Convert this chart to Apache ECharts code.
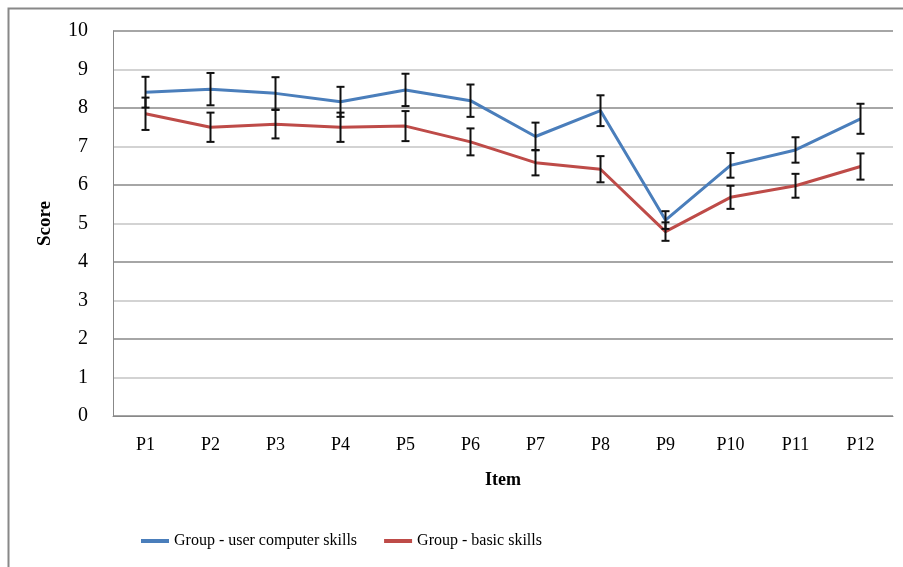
<!DOCTYPE html>
<html>
<head>
<meta charset="utf-8">
<title>Score by item</title>
<script src="https://cdn.jsdelivr.net/npm/echarts@6/dist/echarts.min.js"></script>
<style>
    html, body { margin: 0; padding: 0; background: #fff; }
    #chart { width: 903px; height: 567px; }
</style>
</head>
<body>
<div id="chart"></div>
<script>
// 数据
var items = ['P1', 'P2', 'P3', 'P4', 'P5', 'P6', 'P7', 'P8', 'P9', 'P10', 'P11', 'P12'];
var userSkills = [8.41, 8.49, 8.38, 8.16, 8.47, 8.19, 7.26, 7.93, 5.09, 6.51, 6.91, 7.72];
var userErr = [0.40, 0.42, 0.42, 0.39, 0.42, 0.42, 0.36, 0.40, 0.23, 0.32, 0.33, 0.39];
var basicSkills = [7.85, 7.50, 7.58, 7.50, 7.53, 7.12, 6.58, 6.41, 4.79, 5.68, 5.98, 6.48];
var basicErr = [0.42, 0.38, 0.37, 0.38, 0.39, 0.35, 0.33, 0.34, 0.24, 0.30, 0.31, 0.34];
var yTicks = [0, 1, 2, 3, 4, 5, 6, 7, 8, 9, 10];

var font = '"Liberation Serif", "Times New Roman", serif';

// 误差线
function errorSeries(name, values, errs) {
    var data = values.map(function (v, i) {
        return [i, v - errs[i], v + errs[i]];
    });
    return {
        name: name + ' err',
        type: 'custom',
        z: 5,
        silent: true,
        data: data,
        renderItem: function (params, api) {
            var lo = api.coord([api.value(0), api.value(1)]);
            var hi = api.coord([api.value(0), api.value(2)]);
            var w = 4;
            var style = { stroke: '#111', lineWidth: 2 };
            return {
                type: 'group',
                children: [
                    { type: 'line', shape: { x1: hi[0], y1: hi[1], x2: lo[0], y2: lo[1] }, style: style },
                    { type: 'line', shape: { x1: hi[0] - w, y1: hi[1], x2: hi[0] + w, y2: hi[1] }, style: style },
                    { type: 'line', shape: { x1: lo[0] - w, y1: lo[1], x2: lo[0] + w, y2: lo[1] }, style: style }
                ]
            };
        }
    };
}

var myChart = echarts.init(document.getElementById('chart'));
var option = {
    backgroundColor: '#fff',
    animation: false,
    textStyle: { fontFamily: font, color: '#000' },
    // 外框
    graphic: [{
        type: 'rect',
        left: 6, top: 6,
        shape: { width: 1000, height: 1000 },
        style: { fill: 'none', stroke: '#888', lineWidth: 2 },
        silent: true
    }],
    grid: { left: 113, right: 10, top: 31, bottom: 151 },
    legend: {
        left: 136,
        top: 528,
        itemGap: 27,
        itemWidth: 28,
        itemHeight: 4,
        icon: 'rect',
        textStyle: { fontFamily: font, fontSize: 16, color: '#000' },
        data: ['Group - user computer skills', 'Group - basic skills']
    },
    xAxis: {
        type: 'category',
        data: items,
        boundaryGap: true,
        name: 'Item',
        nameLocation: 'middle',
        nameGap: 55,
        nameTextStyle: { fontFamily: font, fontSize: 18, fontWeight: 'bold', color: '#000' },
        axisLine: { lineStyle: { color: '#888', width: 1 } },
        axisTick: { show: false },
        axisLabel: { margin: 20, fontSize: 18, color: '#000', fontFamily: font }
    },
    yAxis: {
        type: 'value',
        min: yTicks[0],
        max: yTicks[yTicks.length - 1],
        interval: 1,
        name: 'Score',
        nameLocation: 'middle',
        nameGap: 58,
        nameTextStyle: { fontFamily: font, fontSize: 19, fontWeight: 'bold', color: '#000' },
        axisLine: { show: true, lineStyle: { color: '#888', width: 1 } },
        axisTick: { show: false },
        axisLabel: { margin: 25, fontSize: 20, color: '#000', fontFamily: font },
        splitLine: { lineStyle: { color: ['#888', '#c4c4c4'], width: 1.5 } }
    },
    series: [
        {
            name: 'Group - user computer skills',
            type: 'line',
            data: userSkills,
            showSymbol: false,
            symbol: 'none',
            color: '#4A7EBB',
            lineStyle: { width: 3, color: '#4A7EBB' }
        },
        {
            name: 'Group - basic skills',
            type: 'line',
            data: basicSkills,
            showSymbol: false,
            symbol: 'none',
            color: '#BE4B48',
            lineStyle: { width: 3, color: '#BE4B48' }
        },
        errorSeries('user', userSkills, userErr),
        errorSeries('basic', basicSkills, basicErr)
    ]
};
myChart.setOption(option);
</script>
</body>
</html>
